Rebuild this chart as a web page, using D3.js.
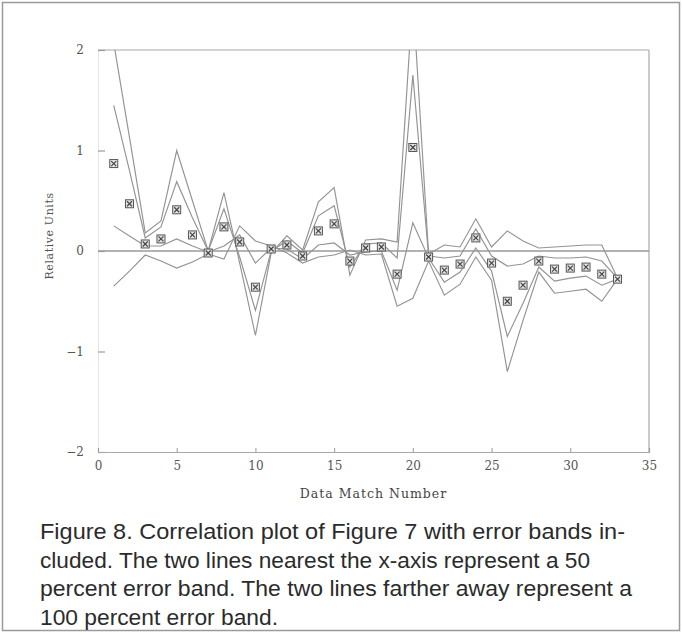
<!DOCTYPE html>
<html>
<head>
<meta charset="utf-8">
<script src="https://cdn.jsdelivr.net/npm/d3@7"></script>
<style>
  html, body { margin: 0; padding: 0; background: #fff; }
  svg { display: block; }
</style>
</head>
<body>
<svg id="fig" width="682" height="635"></svg>
<script>
// Data match numbers along the x-axis
const matchNumber = [1,2,3,4,5,6,7,8,9,10,11,12,13,14,15,16,17,18,19,20,21,22,23,24,25,26,27,28,29,30,31,32,33];

// Correlation values (relative units) for each data match
const relativeUnits = [0.87,0.47,0.07,0.12,0.41,0.16,-0.02,0.24,0.09,-0.36,0.02,0.06,-0.05,0.20,0.27,-0.10,0.03,0.04,-0.23,1.03,-0.06,-0.19,-0.13,0.13,-0.12,-0.50,-0.34,-0.10,-0.18,-0.17,-0.16,-0.23,-0.28];

// Error band curves: 100 percent and 50 percent bands on either side
const band100Upper = [2.07,1.13,0.18,0.30,1.00,0.50,0.00,0.58,-0.12,-0.84,-0.02,0.15,0.01,0.49,0.63,-0.24,0.11,0.12,0.09,2.53,-0.03,0.06,0.04,0.32,0.04,0.20,0.10,0.03,0.04,0.05,0.06,0.06,-0.27];
const band50Upper  = [1.45,0.80,0.13,0.24,0.69,0.33,0.00,0.42,-0.06,-0.59,0.00,0.10,-0.02,0.35,0.45,-0.16,0.07,0.08,-0.07,1.75,-0.05,-0.07,-0.05,0.22,-0.05,-0.15,-0.13,-0.05,-0.07,-0.07,-0.06,-0.10,-0.27];
const band50Lower  = [0.25,0.15,0.05,0.05,0.12,0.05,-0.01,0.05,0.16,-0.12,0.03,0.02,-0.08,0.06,0.08,-0.04,-0.01,0.00,-0.39,0.28,-0.07,-0.31,-0.21,0.03,-0.20,-0.85,-0.52,-0.16,-0.30,-0.27,-0.25,-0.34,-0.28];
const band100Lower = [-0.35,-0.20,-0.04,-0.10,-0.17,-0.11,-0.03,-0.08,0.25,0.10,0.05,-0.02,-0.12,-0.06,-0.04,0.01,-0.04,-0.03,-0.55,-0.47,-0.10,-0.44,-0.33,-0.06,-0.29,-1.20,-0.69,-0.21,-0.42,-0.40,-0.38,-0.50,-0.28];

// Axis ticks and labels
const xTicks = [0,5,10,15,20,25,30,35];
const yTicks = [-2,-1,0,1,2];
const xTitle = "Data Match Number";
const yTitle = "Relative Units";

// Caption lines under the plot
const captionLines = [
  "Figure 8. Correlation plot of Figure 7 with error bands in-",
  "cluded. The two lines nearest the x-axis represent a 50",
  "percent error band. The two lines farther away represent a",
  "100 percent error band."
];
const captionWidths = [585, 550, 592, 238];

const svg = d3.select("#fig");
const W = 682, H = 635;

// Outer figure frame
svg.append("rect")
  .attr("x", 2.5).attr("y", 2.5)
  .attr("width", W - 5).attr("height", H - 7)
  .attr("fill", "none").attr("stroke", "#9a9a9a").attr("stroke-width", 1.5);

const plot = { left: 98, right: 649, top: 50, bottom: 452 };

const x = d3.scaleLinear().domain([0, 35]).range([plot.left, plot.right]);
const y = d3.scaleLinear().domain([-2, 2]).range([plot.bottom, plot.top]);

const gray = "#939393";
const serif = "'DejaVu Serif', 'Liberation Serif', serif";

// Clip region for the band curves
svg.append("defs").append("clipPath").attr("id", "plotClip")
  .append("rect")
  .attr("x", plot.left).attr("y", plot.top)
  .attr("width", plot.right - plot.left).attr("height", plot.bottom - plot.top);

// Box: top and right edges, faint left edge
svg.append("line")
  .attr("x1", x(0)).attr("x2", x(35)).attr("y1", y(2)).attr("y2", y(2))
  .attr("stroke", "#a8a8a8").attr("stroke-width", 1.2);
svg.append("line")
  .attr("x1", x(35)).attr("x2", x(35)).attr("y1", y(2)).attr("y2", y(-2))
  .attr("stroke", "#a8a8a8").attr("stroke-width", 1.2);

// Y axis
const yAxis = svg.append("g")
  .attr("transform", `translate(${x(0)},0)`)
  .call(d3.axisLeft(y).tickValues(yTicks).tickSize(-7).tickPadding(14)
    .tickFormat(d => d < 0 ? "\u2212" + Math.abs(d) : String(d)));
yAxis.select(".domain").attr("stroke", "#e6e6e6");
yAxis.selectAll(".tick line").attr("stroke", "#9a9a9a").attr("stroke-width", 1.2);
yAxis.selectAll(".tick text")
  .attr("font-family", serif).attr("font-size", 12).attr("fill", "#555");

// X axis
const xAxis = svg.append("g")
  .attr("transform", `translate(0,${y(-2)})`)
  .call(d3.axisBottom(x).tickValues(xTicks).tickSize(-4).tickPadding(9));
xAxis.select(".domain").attr("stroke", "#a8a8a8").attr("stroke-width", 1.2);
xAxis.selectAll(".tick line").attr("stroke", "#9a9a9a");
xAxis.selectAll(".tick text")
  .attr("font-family", serif).attr("font-size", 12).attr("fill", "#555");

// Axis titles
svg.append("text")
  .attr("x", x(17.5)).attr("y", 498)
  .attr("text-anchor", "middle")
  .attr("font-family", serif).attr("font-size", 12.5).attr("fill", "#444")
  .attr("letter-spacing", 1)
  .text(xTitle);
svg.append("text")
  .attr("transform", `translate(53,${y(0.15)}) rotate(-90)`)
  .attr("text-anchor", "middle")
  .attr("font-family", serif).attr("font-size", 11).attr("fill", "#555")
  .attr("letter-spacing", 0.6)
  .text(yTitle);

// Zero reference line
svg.append("line")
  .attr("x1", x(0)).attr("x2", x(35)).attr("y1", y(0)).attr("y2", y(0))
  .attr("stroke", "#9a9a9a").attr("stroke-width", 1.3);

// Error band curves
const line = d3.line()
  .x((d, i) => x(matchNumber[i]))
  .y(d => y(d));

const bands = svg.append("g").attr("clip-path", "url(#plotClip)");
[band100Upper, band50Upper, band50Lower, band100Lower].forEach(series => {
  bands.append("path")
    .datum(series)
    .attr("d", line)
    .attr("fill", "none")
    .attr("stroke", gray)
    .attr("stroke-width", 1.15)
    .attr("stroke-linejoin", "miter");
});

// Boxed-cross markers for the correlation values
const s = 4;
const markers = svg.append("g")
  .selectAll("g")
  .data(relativeUnits.map((v, i) => ({ n: matchNumber[i], v })))
  .join("g")
  .attr("transform", d => `translate(${x(d.n)},${y(d.v)})`);
markers.append("rect")
  .attr("x", -s).attr("y", -s).attr("width", 2 * s).attr("height", 2 * s)
  .attr("fill", "#e4e4e4").attr("stroke", "#555").attr("stroke-width", 1);
markers.append("path")
  .attr("d", `M${-s + 1.5},${-s + 1.5}L${s - 1.5},${s - 1.5}M${s - 1.5},${-s + 1.5}L${-s + 1.5},${s - 1.5}`)
  .attr("stroke", "#444").attr("stroke-width", 1.2);

// Caption
svg.append("g")
  .selectAll("text")
  .data(captionLines)
  .join("text")
  .attr("x", 40)
  .attr("y", (d, i) => 539 + i * 28.5)
  .attr("font-family", "'Liberation Sans Narrow', 'Liberation Sans', Arial, sans-serif")
  .attr("font-size", 22)
  .attr("fill", "#2b2b2b")
  .attr("textLength", (d, i) => captionWidths[i])
  .attr("lengthAdjust", "spacingAndGlyphs")
  .text(d => d);
</script>
</body>
</html>
